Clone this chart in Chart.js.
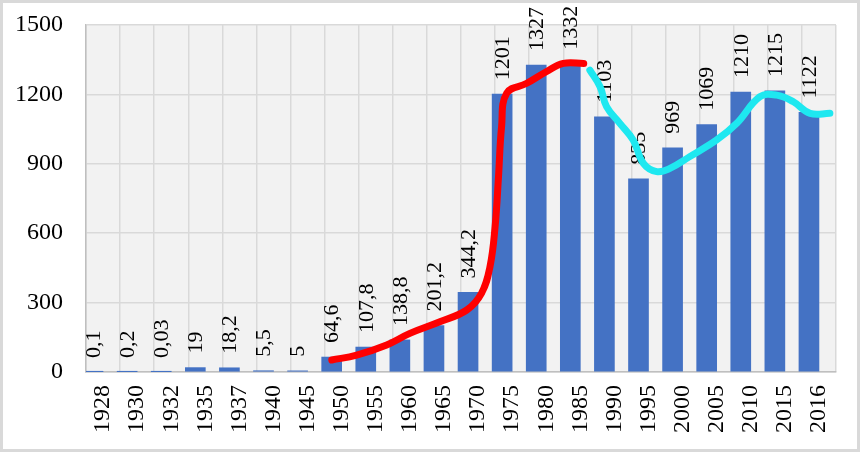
<!DOCTYPE html>
<html>
<head>
<meta charset="utf-8">
<script src="https://cdn.jsdelivr.net/npm/chart.js@4.4.1/dist/chart.umd.min.js"></script>
<style>
  html, body { margin: 0; padding: 0; background: #fff; }
  #wrap { width: 860px; height: 452px; position: relative; }
</style>
</head>
<body>
<div id="wrap"><canvas id="grafica" width="860" height="452"></canvas></div>
<script>
// Datos
const years = ['1928', '1930', '1932', '1935', '1937', '1940', '1945', '1950', '1955', '1960', '1965',
  '1970', '1975', '1980', '1985', '1990', '1995', '2000', '2005', '2010', '2015', '2016'];
const values = [0.1, 0.2, 0.03, 19, 18.2, 5.5, 5, 64.6, 107.8, 138.8, 201.2,
  344.2, 1201, 1327, 1332, 1103, 835, 969, 1069, 1210, 1215, 1122];
const yTicks = [0, 300, 600, 900, 1200, 1500];

// Líneas dibujadas a mano (x = índice de categoría)
const redX = [6.71, 7.44, 8.32, 9.0, 9.88, 10.67, 11.1, 11.35, 11.5, 11.6, 11.69, 11.84, 12.43, 13.0, 13.5, 14.1];
const redY = [52, 73, 117, 167, 217, 268, 340, 455, 628, 844, 1060, 1205, 1248, 1298, 1334, 1334];
const cyanX = [14.28, 14.58, 14.77, 15.16, 15.55, 15.85, 16.24, 16.63, 17.21, 18.0, 18.59, 19.27, 19.76, 20.25, 20.74, 21.32];
const cyanY = [1305, 1233, 1147, 1075, 1003, 902, 866, 880, 931, 1003, 1075, 1190, 1197, 1168, 1118, 1118];

const font = 'Liberation Serif';

const toPoints = (xs, ys) => xs.map((x, i) => ({ x: x, y: ys[i] }));

// Fondo del área y marco
const fondo = {
    id: 'fondo',
    beforeDraw(chart) {
        const { ctx, chartArea: a } = chart;
        ctx.save();
        ctx.fillStyle = '#fff';
        ctx.fillRect(0, 0, chart.width, chart.height);
        ctx.strokeStyle = '#d9d9d9';
        ctx.lineWidth = 3;
        ctx.strokeRect(1.5, 1.5, chart.width - 3, chart.height - 3);
        ctx.fillStyle = '#f2f2f2';
        ctx.fillRect(a.left, a.top, a.right - a.left, a.bottom - a.top);
        ctx.restore();
    }
};

// Etiquetas de valores encima de las barras
const etiquetas = {
    id: 'etiquetas',
    afterDatasetDraw(chart, args) {
        if (args.index !== 0) return;
        const { ctx } = chart;
        ctx.save();
        ctx.fillStyle = '#000';
        ctx.font = '22px "' + font + '"';
        ctx.textAlign = 'left';
        ctx.textBaseline = 'middle';
        args.meta.data.forEach((bar, i) => {
            ctx.save();
            ctx.translate(bar.x, bar.y - 14);
            ctx.rotate(-Math.PI / 2);
            ctx.fillText(String(values[i]).replace('.', ','), 0, 1);
            ctx.restore();
        });
        ctx.restore();
    }
};

function setupChart() {
    const ctx = document.getElementById('grafica').getContext('2d');
    new Chart(ctx, {
        type: 'bar',
        data: {
            labels: years,
            datasets: [{
                data: values,
                backgroundColor: '#4472c4',
                barThickness: 20,
                order: 2
            }, {
                type: 'line',
                xAxisID: 'xl',
                data: toPoints(redX, redY),
                borderColor: '#ff0000',
                borderWidth: 7,
                pointRadius: 0,
                tension: 0.4,
                borderCapStyle: 'round',
                order: 1
            }, {
                type: 'line',
                xAxisID: 'xl',
                data: toPoints(cyanX, cyanY),
                borderColor: '#1ee8f0',
                borderWidth: 7,
                pointRadius: 0,
                tension: 0.4,
                borderCapStyle: 'round',
                order: 1
            }]
        },
        options: {
            responsive: false,
            animation: false,
            layout: { padding: { top: 25, right: 24, left: 0, bottom: 0 } },
            plugins: {
                legend: { display: false },
                tooltip: { enabled: false }
            },
            scales: {
                x: {
                    afterFit(scale) {
                        scale.height = 80;
                        scale.paddingLeft = 0;
                        scale.paddingRight = 0;
                    },
                    grid: { color: '#d9d9d9', lineWidth: 1.5, drawTicks: false },
                    border: { color: '#bfbfbf', width: 1.5 },
                    ticks: {
                        color: '#000',
                        font: { family: font, size: 24 },
                        minRotation: 90,
                        maxRotation: 90,
                        padding: 13,
                        autoSkip: false
                    }
                },
                xl: {
                    type: 'linear',
                    display: false,
                    offset: false,
                    min: -0.5,
                    max: years.length - 0.5
                },
                y: {
                    min: yTicks[0],
                    max: yTicks[yTicks.length - 1],
                    afterFit(scale) {
                        scale.width = 86;
                        scale.paddingTop = 0;
                        scale.paddingBottom = 0;
                    },
                    afterBuildTicks(scale) { scale.ticks = yTicks.map(v => ({ value: v })); },
                    grid: { color: '#d9d9d9', lineWidth: 1.5, drawTicks: false },
                    border: { color: '#bfbfbf', width: 1.5 },
                    ticks: {
                        color: '#000',
                        font: { family: font, size: 24 },
                        padding: 23,
                        callback: v => String(v)
                    }
                }
            }
        },
        plugins: [fondo, etiquetas]
    });
}

setupChart();
</script>
</body>
</html>
